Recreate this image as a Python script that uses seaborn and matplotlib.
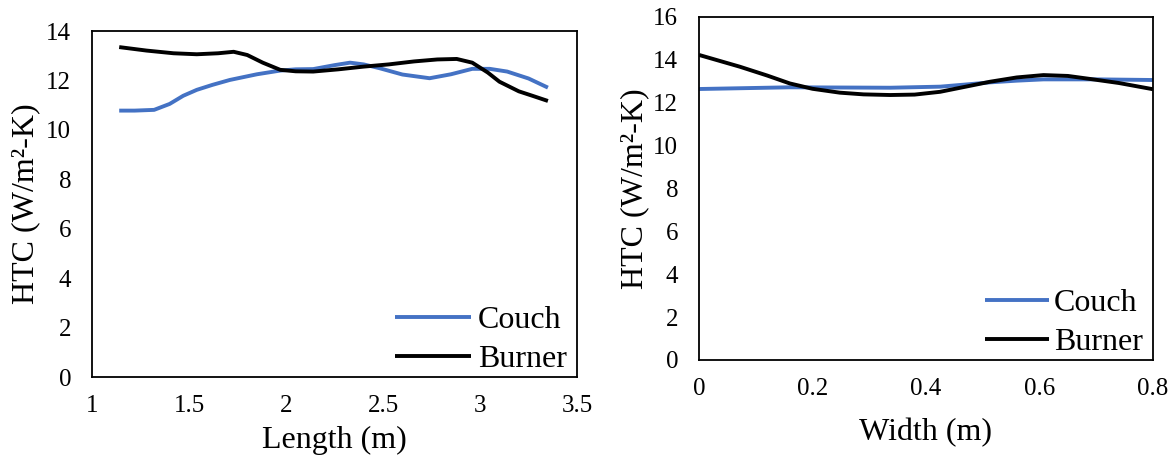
import matplotlib
matplotlib.use("Agg")
import matplotlib.pyplot as plt
import seaborn as sns
import pandas as pd

sns.set_theme(style="white")
plt.rcParams["font.family"] = ["Liberation Serif", "DejaVu Serif"]
plt.rcParams["text.color"] = "black"
plt.rcParams["axes.labelcolor"] = "black"
plt.rcParams["xtick.color"] = "black"
plt.rcParams["ytick.color"] = "black"

# Heat transfer coefficient along the length of the dryer
length_burner_x = [1.14, 1.28, 1.42, 1.54, 1.65, 1.73, 1.80, 1.88, 1.97, 2.05, 2.14,
                   2.27, 2.40, 2.53, 2.66, 2.78, 2.88, 2.96, 3.04, 3.10, 3.20, 3.27, 3.35]
length_burner = [13.35, 13.21, 13.10, 13.06, 13.10, 13.16, 13.03, 12.72, 12.43, 12.37, 12.36,
                 12.45, 12.56, 12.65, 12.77, 12.85, 12.87, 12.72, 12.32, 11.95, 11.56, 11.38, 11.17]
length_couch_x = [1.14, 1.22, 1.32, 1.40, 1.47, 1.54, 1.62, 1.71, 1.85, 1.97, 2.05, 2.14,
                  2.25, 2.33, 2.40, 2.48, 2.60, 2.74, 2.85, 2.96, 3.05, 3.14, 3.25, 3.35]
length_couch = [10.78, 10.78, 10.81, 11.05, 11.38, 11.62, 11.82, 12.02, 12.25, 12.40, 12.45, 12.46,
                12.62, 12.72, 12.65, 12.50, 12.24, 12.09, 12.25, 12.47, 12.47, 12.36, 12.08, 11.71]

# Heat transfer coefficient across the width of the dryer
width_burner_x = [0.0, 0.072, 0.12, 0.16, 0.20, 0.248, 0.29, 0.337, 0.38, 0.425, 0.47,
                  0.513, 0.56, 0.607, 0.65, 0.689, 0.74, 0.80]
width_burner = [14.23, 13.68, 13.27, 12.90, 12.65, 12.47, 12.39, 12.36, 12.38, 12.51, 12.75,
                12.98, 13.18, 13.29, 13.25, 13.11, 12.92, 12.63]
width_couch_x = [0.0, 0.16, 0.337, 0.425, 0.47, 0.513, 0.56, 0.607, 0.70, 0.80]
width_couch = [12.64, 12.72, 12.70, 12.75, 12.85, 12.95, 13.03, 13.09, 13.09, 13.06]

left_xticks = [1, 1.5, 2, 2.5, 3, 3.5]
left_yticks = [0, 2, 4, 6, 8, 10, 12, 14]
right_xticks = [0, 0.2, 0.4, 0.6, 0.8]
right_yticks = [0, 2, 4, 6, 8, 10, 12, 14, 16]

BLUE = "#4472C4"
BLACK = "#000000"

fig = plt.figure(figsize=(11.74, 4.59), dpi=100)
ax1 = fig.add_axes([0.0784, 0.1786, 0.4131, 0.7538])
ax2 = fig.add_axes([0.5954, 0.2157, 0.3867, 0.7473])

df_lc = pd.DataFrame({"x": length_couch_x, "y": length_couch})
df_lb = pd.DataFrame({"x": length_burner_x, "y": length_burner})
df_wc = pd.DataFrame({"x": width_couch_x, "y": width_couch})
df_wb = pd.DataFrame({"x": width_burner_x, "y": width_burner})

lw = 2.8
style = dict(solid_capstyle="butt", solid_joinstyle="round")
sns.lineplot(data=df_lc, x="x", y="y", ax=ax1, color=BLUE, lw=lw, label="Couch", **style)
sns.lineplot(data=df_lb, x="x", y="y", ax=ax1, color=BLACK, lw=lw, label="Burner", **style)
sns.lineplot(data=df_wc, x="x", y="y", ax=ax2, color=BLUE, lw=lw, label="Couch", **style)
sns.lineplot(data=df_wb, x="x", y="y", ax=ax2, color=BLACK, lw=lw, label="Burner", **style)

tick_fs = 18
label_fs = 23

ax1.set_xlim(1, 3.5)
ax1.set_ylim(0, 14)
ax1.set_xticks(left_xticks)
ax1.set_xticklabels([f"{t:g}" for t in left_xticks])
ax1.set_yticks(left_yticks)
ax1.set_xlabel("Length (m)", fontsize=label_fs, labelpad=6)
ax1.set_ylabel("HTC (W/m²-K)", fontsize=label_fs, labelpad=4)

ax2.set_xlim(0, 0.8)
ax2.set_ylim(0, 16)
ax2.set_xticks(right_xticks)
ax2.set_xticklabels([f"{t:g}" for t in right_xticks])
ax2.set_yticks(right_yticks)
ax2.set_xlabel("Width (m)", fontsize=label_fs, labelpad=13)
ax2.set_ylabel("HTC (W/m²-K)", fontsize=label_fs, labelpad=3)

for ax in (ax1, ax2):
    ax.grid(False)
    ax.tick_params(axis="both", which="both", length=0, labelsize=tick_fs,
                   colors="black")
    ax.tick_params(axis="x", pad=13)
    ax.tick_params(axis="y", pad=15)
    for s in ax.spines.values():
        s.set_visible(True)
        s.set_color("black")
        s.set_linewidth(1.3)
    ax.set_facecolor("white")

leg1 = ax1.legend(loc="lower right", bbox_to_anchor=(0.985, 0.0), frameon=False,
                  fontsize=label_fs, handlelength=2.4, handletextpad=0.2,
                  labelspacing=0.3, borderaxespad=0.0, borderpad=0.1)
leg2 = ax2.legend(loc="lower right", bbox_to_anchor=(0.985, 0.0), frameon=False,
                  fontsize=label_fs, handlelength=2.0, handletextpad=0.15,
                  labelspacing=0.3, borderaxespad=0.0, borderpad=0.1)
for leg in (leg1, leg2):
    for h in leg.get_lines():
        h.set_linewidth(lw)
    for t in leg.get_texts():
        t.set_color("black")

fig.savefig("out.png", dpi=100, facecolor="white")
